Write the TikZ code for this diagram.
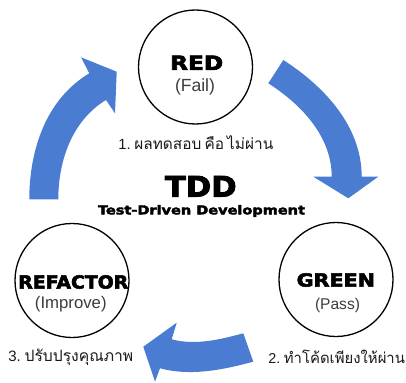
\documentclass[tikz,border=0pt]{standalone}
\usepackage{fontspec}
\usepackage{graphicx}
\setmainfont{Liberation Sans}
\newfontfamily\heavyfont[FakeBold=3]{DejaVu Sans Bold}
\newfontfamily\thaifont[Script=Thai,Scale=1.25,WordSpace=0.6]{Loma}
\definecolor{arrowblue}{RGB}{74,125,210}
\definecolor{subgray}{RGB}{60,60,60}
\newcommand\fitw[2]{\resizebox{#1pt}{!}{#2}}
\newcommand\fitwh[3]{\resizebox{#1pt}{#2pt}{#3}}
\newcommand\thaitext[3]{\resizebox{#1pt}{!}{\fontsize{13.5}{16}\selectfont\scalebox{1.2}{#2}\hspace{0.3em}{\thaifont #3}}}
\begin{document}
\begin{tikzpicture}[x=1pt,y=-1pt,
  stage/.style={circle,draw=black,line width=1.3pt,fill=white,minimum size=114pt,inner sep=0pt},
  title/.style={inner sep=0pt,font=\heavyfont},
  sub/.style={inner sep=0pt,text=subgray},
  thai/.style={inner sep=0pt,text=black!90},
  cyc/.style={fill=arrowblue,draw=none}]
\useasboundingbox (0,0) rectangle (406,382);

% cycle arrows
\fill[cyc] (283.3,60) .. controls (325.2,86.9) and (361.7,126.9) .. (361.7,176.7)
  -- (378.3,176.7) -- (348.3,198.3) -- (313.3,176.7) -- (331.7,176.7)
  .. controls (331.7,136.7) and (301.9,104.9) .. (268.3,83.3) -- cycle;
\fill[cyc] (243.3,333.3) .. controls (219.8,339.6) and (195.2,345.6) .. (171.7,339.3)
  -- (176.7,322.7) -- (143.3,346.7) -- (155,381.7) -- (160,368.3)
  .. controls (190.6,376.5) and (222.7,369.9) .. (253.3,361.7) -- cycle;
\fill[cyc] (29.3,199.3) .. controls (29.3,149.5) and (46.3,99) .. (89.3,73.3)
  -- (81,57.3) -- (116.7,71.7) -- (115,113.3) -- (106,100)
  .. controls (72.5,120.3) and (58.3,160) .. (58.3,199.3) -- cycle;

% stages
\node[stage] (red) at (195.5,67) {};
\node[stage] (green) at (336,279.5) {};
\node[stage] (refactor) at (72,280.5) {};

\node[title] (redt) at (196.7,62.8) {\fitwh{53}{14.3}{RED}};
\node[sub] (reds) at (195,86.7) {\fitw{40}{(Fail)}};
\node[title] (greent) at (335.8,280) {\fitwh{78.3}{13.3}{GREEN}};
\node[sub] (greens) at (337.5,305.5) {\fitw{45}{(Pass)}};
\node[title] (reft) at (73.3,282) {\fitwh{110}{13.3}{REFACTOR}};
\node[sub] (refs) at (70.8,303.7) {\fitw{71.7}{(Improve)}};

\node[title] (tdd) at (200.8,186.3) {\fitwh{71.7}{20.7}{TDD}};
\node[title] (tddsub) at (201.5,211) {\fitwh{207}{9.3}{Test-Driven Development}};

\node[thai] (step1) at (195.8,143) {\thaitext{155}{1.}{ผลทดสอบ คือ ไม่ผ่าน}};
\node[thai] (step2) at (336.7,357) {\thaitext{136.7}{2.}{ทำโค้ดเพียงให้ผ่าน}};
\node[thai] (step3) at (70.8,357) {\thaitext{125}{3.}{ปรับปรุงคุณภาพ}};
\end{tikzpicture}
\end{document}
